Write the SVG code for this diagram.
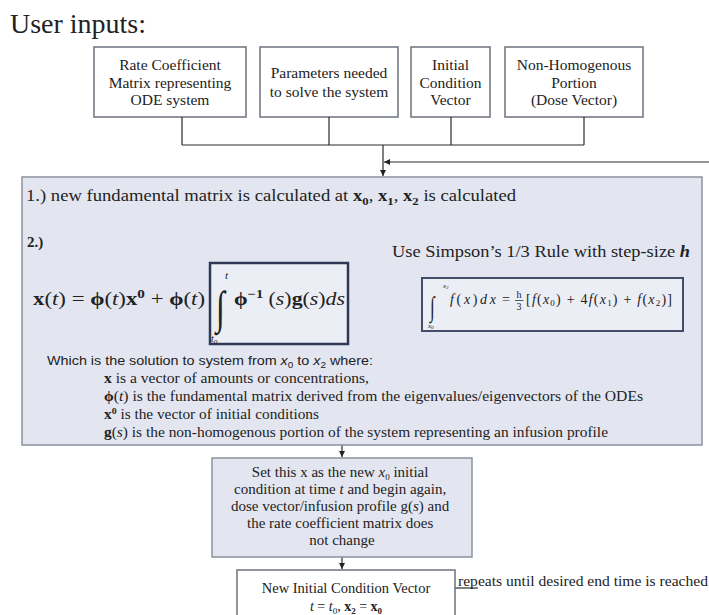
<svg xmlns="http://www.w3.org/2000/svg" width="709" height="615" viewBox="0 0 709 615">
  <defs>
    <style>
      .serif{font-family:"Liberation Serif","Times New Roman",serif;fill:#222}
      .sans{font-family:"Liberation Sans",Arial,sans-serif;fill:#222}
      .c{text-anchor:middle}
      .box{fill:#ffffff;stroke:#6c717e;stroke-width:1.5}
      .panel{fill:#e3e6f0;stroke:#8d919b;stroke-width:1.5}
      .mathbox{fill:#eceef5;stroke:#2f3856;stroke-width:2.5}
      .wire{fill:none;stroke:#2a2a2a;stroke-width:1.2}
      .b{font-weight:bold}
      .i{font-style:italic}
    </style>
    <marker id="arr" viewBox="0 0 6 6" refX="6" refY="3" markerWidth="5" markerHeight="5" orient="auto">
      <path d="M0,0L6,3L0,6z" fill="#222"/>
    </marker>
  </defs>
  <rect width="709" height="615" fill="#ffffff"/>

  <text class="serif" x="10" y="33" font-size="27" textLength="136" lengthAdjust="spacingAndGlyphs">User inputs:</text>

  <!-- input boxes -->
  <g id="rate-matrix">
    <rect class="box" x="94" y="47" width="152" height="70"/>
    <text class="serif c" font-size="15.5"><tspan x="170" y="70">Rate Coefficient</tspan><tspan x="170" y="88">Matrix representing</tspan><tspan x="170" y="105">ODE system</tspan></text>
  </g>
  <g id="parameters">
    <rect class="box" x="260" y="47" width="138" height="70"/>
    <text class="serif c" font-size="15.5"><tspan x="329" y="78">Parameters needed</tspan><tspan x="329" y="97">to solve the system</tspan></text>
  </g>
  <g id="initial-vector">
    <rect class="box" x="411" y="47" width="79" height="70"/>
    <text class="serif c" font-size="15.5"><tspan x="450.5" y="70">Initial</tspan><tspan x="450.5" y="88">Condition</tspan><tspan x="450.5" y="105">Vector</tspan></text>
  </g>
  <g id="dose-vector">
    <rect class="box" x="505" y="47" width="138" height="70"/>
    <text class="serif c" font-size="15.5"><tspan x="574" y="70">Non-Homogenous</tspan><tspan x="574" y="88">Portion</tspan><tspan x="574" y="105">(Dose Vector)</tspan></text>
  </g>

  <!-- connectors -->
  <g id="connectors">
    <path class="wire" d="M182,117V145M329,117V145M451,117V145M584,117V145M182,145H584"/>
    <path class="wire" d="M383,145V176" marker-end="url(#arr)"/>
    <path class="wire" d="M709,162H384" marker-end="url(#arr)"/>
    <path class="wire" d="M348,303H421" marker-end="url(#arr)"/>
    <path class="wire" d="M342,445V457" marker-end="url(#arr)"/>
    <path class="wire" d="M342,557V569" marker-end="url(#arr)"/>
    <path class="wire" d="M455,588H478"/>
  </g>

  <!-- main solution panel -->
  <g id="solution-panel">
    <rect class="panel" x="22" y="177" width="680" height="268"/>
    <text class="serif" x="26" y="201" font-size="16" textLength="490" lengthAdjust="spacingAndGlyphs">1.) new fundamental matrix is calculated at <tspan class="b">x</tspan><tspan class="b" font-size="11" dy="4">0</tspan><tspan dy="-4">, </tspan><tspan class="b">x</tspan><tspan class="b" font-size="11" dy="4">1</tspan><tspan dy="-4">, </tspan><tspan class="b">x</tspan><tspan class="b" font-size="11" dy="4">2</tspan><tspan dy="-4"> is calculated</tspan></text>
    <text class="serif b" x="27" y="247" font-size="15">2.)</text>

    <text class="serif" x="33" y="305" font-size="18" textLength="172" lengthAdjust="spacingAndGlyphs"><tspan class="b">x</tspan>(<tspan class="i">t</tspan>) = <tspan class="b">ϕ</tspan>(<tspan class="i">t</tspan>)<tspan class="b">x</tspan><tspan class="b" font-size="12" dy="-7">0</tspan><tspan dy="7"> + </tspan><tspan class="b">ϕ</tspan>(<tspan class="i">t</tspan>)</text>
  </g>

  <g id="integral-term">
    <rect class="mathbox" x="210" y="263" width="138" height="81"/>
    <text class="serif" font-size="46" transform="translate(216,323) scale(0.7,1)">∫</text>
    <text class="serif i" x="225" y="279" font-size="11">t</text>
    <text class="serif i" x="211" y="342" font-size="10">t<tspan font-size="7" dy="2">0</tspan></text>
    <text class="serif" x="234" y="305" font-size="18" textLength="111" lengthAdjust="spacingAndGlyphs"><tspan class="b">ϕ</tspan><tspan class="b" font-size="12" dy="-7">−1</tspan><tspan dy="7"> (</tspan><tspan class="i">s</tspan>)<tspan class="b">g</tspan>(<tspan class="i">s</tspan>)<tspan class="i">ds</tspan></text>
  </g>

  <g id="simpson-rule">
    <text class="serif" x="392" y="257" font-size="16" textLength="298" lengthAdjust="spacingAndGlyphs">Use Simpson’s 1/3 Rule with step-size <tspan class="i b">h</tspan></text>
    <rect x="422" y="278" width="261" height="53" fill="#eceef5" stroke="#434c68" stroke-width="2"/>
    <text class="serif" font-size="28" transform="translate(430,316) scale(0.6,1)">∫</text>
    <text class="serif i" x="443" y="288" font-size="7">x<tspan font-size="5" dy="1">2</tspan></text>
    <text class="serif i" x="428" y="328" font-size="7">x<tspan font-size="5" dy="1">0</tspan></text>
    <text class="serif" x="450" y="304" font-size="14" textLength="46" lengthAdjust="spacing"><tspan class="i">f</tspan>(<tspan class="i">x</tspan>)<tspan class="i">dx</tspan></text>
    <text class="serif" x="502" y="304" font-size="14">=</text>
    <text class="serif c" x="519" y="298" font-size="10">h</text>
    <path d="M515,300.5H523.5" stroke="#333" stroke-width="0.8"/>
    <text class="serif c" x="519" y="310" font-size="10">3</text>
    <text class="serif" x="526" y="304" font-size="14" textLength="146" lengthAdjust="spacing">[<tspan class="i">f</tspan>(<tspan class="i">x</tspan><tspan font-size="9" dy="2">0</tspan><tspan dy="-2">) + 4</tspan><tspan class="i">f</tspan>(<tspan class="i">x</tspan><tspan font-size="9" dy="2">1</tspan><tspan dy="-2">) + </tspan><tspan class="i">f</tspan>(<tspan class="i">x</tspan><tspan font-size="9" dy="2">2</tspan><tspan dy="-2">)]</tspan></text>
  </g>

  <g id="explanation">
    <text class="sans" x="47" y="365" font-size="13" textLength="326" lengthAdjust="spacingAndGlyphs">Which is the solution to system from <tspan class="i">x</tspan><tspan font-size="9" dy="3">0</tspan><tspan dy="-3"> to </tspan><tspan class="i">x</tspan><tspan font-size="9" dy="3">2</tspan><tspan dy="-3"> where:</tspan></text>
    <text class="serif" x="104" y="383" font-size="14" textLength="265" lengthAdjust="spacingAndGlyphs"><tspan class="b">x</tspan> is a vector of amounts or concentrations,</text>
    <text class="serif" x="104" y="401" font-size="14" textLength="539" lengthAdjust="spacingAndGlyphs"><tspan class="b">ϕ</tspan>(<tspan class="i">t</tspan>) is the fundamental matrix derived from the eigenvalues/eigenvectors of the ODEs</text>
    <text class="serif" x="104" y="419" font-size="14" textLength="215" lengthAdjust="spacingAndGlyphs"><tspan class="b">x</tspan><tspan class="b" font-size="9" dy="-5">0</tspan><tspan dy="5"> is the vector of initial conditions</tspan></text>
    <text class="serif" x="104" y="437" font-size="14" textLength="504" lengthAdjust="spacingAndGlyphs"><tspan class="b">g</tspan>(<tspan class="i">s</tspan>) is the non-homogenous portion of the system representing an infusion profile</text>
  </g>

  <g id="reset-step">
    <rect class="panel" x="212" y="458" width="260" height="99"/>
    <text class="serif c" font-size="15">
      <tspan x="342" y="477">Set this x as the new <tspan class="i">x</tspan><tspan font-size="9" dy="3">0</tspan><tspan dy="-3"> initial</tspan></tspan>
      <tspan x="342" y="494">condition at time <tspan class="i">t</tspan> and begin again,</tspan>
      <tspan x="342" y="511">dose vector/infusion profile g(<tspan class="i">s</tspan>) and</tspan>
      <tspan x="342" y="528">the rate coefficient matrix does</tspan>
      <tspan x="342" y="545">not change</tspan>
    </text>
  </g>

  <g id="new-initial-vector">
    <rect class="box" x="237" y="570" width="218" height="60"/>
    <text class="serif c" x="346" y="593" font-size="14.5">New Initial Condition Vector</text>
    <text class="serif c" x="346" y="611" font-size="14"><tspan class="i">t</tspan> = <tspan class="i">t</tspan><tspan font-size="9" dy="3">0</tspan><tspan dy="-3">, </tspan><tspan class="b">x</tspan><tspan class="b" font-size="9" dy="3">2</tspan><tspan dy="-3"> =  </tspan><tspan class="b">x</tspan><tspan class="b" font-size="9" dy="3">0</tspan></text>
  </g>

  <text class="serif" x="458" y="586" font-size="14" textLength="250" lengthAdjust="spacingAndGlyphs">repeats until desired end time is reached</text>
</svg>
